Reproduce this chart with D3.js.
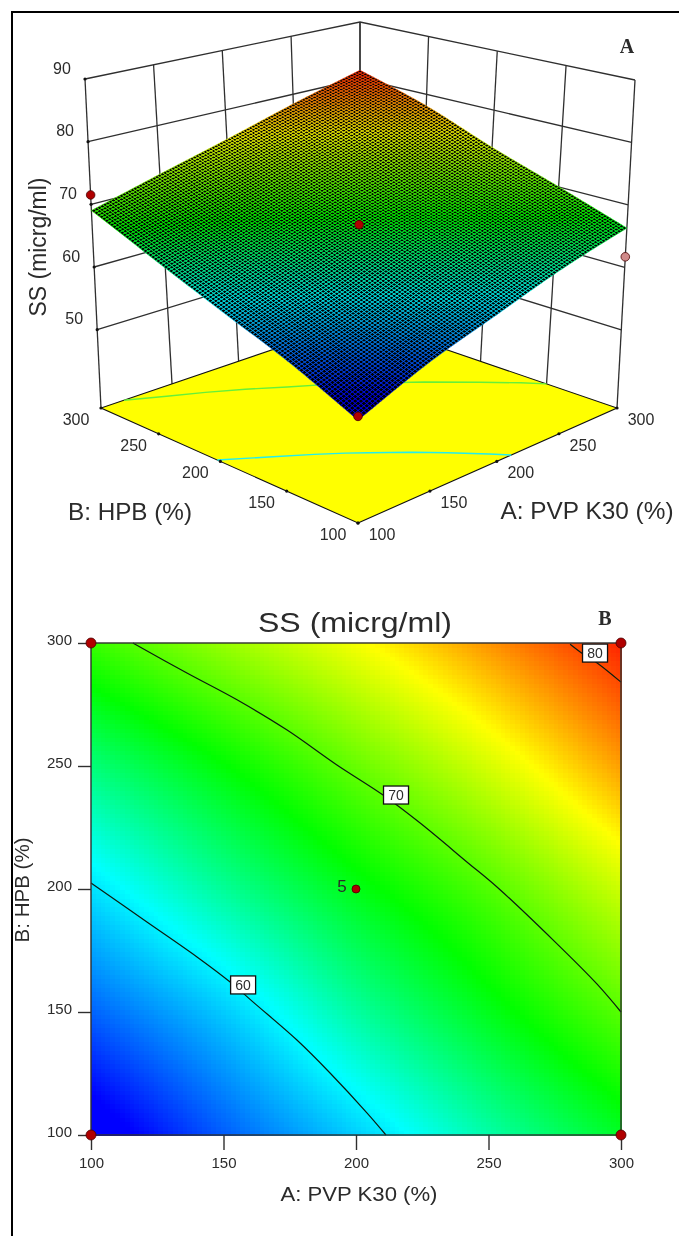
<!DOCTYPE html>
<html>
<head>
<meta charset="utf-8">
<script src="https://cdn.jsdelivr.net/npm/d3@7/dist/d3.min.js"></script>
<style>
html,body{margin:0;padding:0;background:#fff;overflow:hidden}
svg{display:block;filter:blur(0.4px)}
text{font-family:"Liberation Sans",Arial,sans-serif;fill:#2b2b2b}
</style>
</head>
<body>
<script>
// ---------- data ----------
const aLevels = [100,150,200,250,300];
const bLevels = [100,150,200,250,300];
const zTicks  = [50,60,70,80,90];
const ssB100 = [51.5,55.8,59.3,63.0,66.3];
const ssB150 = [56.0,59.2,63.2,66.6,70.0];
const ssB200 = [59.9,63.4,66.7,69.8,73.7];
const ssB250 = [64.2,67.2,70.5,74.0,78.0];
const ssB300 = [69.0,72.0,75.0,78.3,81.5];
const ssRows = [ssB100,ssB150,ssB200,ssB250,ssB300];
const contour60 = [[100,202.4],[121.1,186.6],[140,172.4],[152.5,162.2],[161.1,154.1],[177.7,138.6],[190.2,125.2],[204.2,108.9],[211.3,100]];
const contour70 = [[115.8,300],[136.2,287.8],[155.1,276.9],[174,264.6],[192.8,250.4],[210.2,238.2],[224.2,226.8],[242.3,210.6],[253.2,200.8],[275.1,178.5],[290.9,161.4],[300,150]];
const contour80 = [[280.8,299.5],[285.7,295.5],[291,291.9],[300,284.1]];
const contourLabels = [["60",157.4,161],["70",215.1,238.2],["80",290.2,295.9]];
const designA = [100,100,300,300,200];
const designB = [100,300,100,300,200];
const design3dA = [100,100,300,200];
const design3dB = [100,300,100,200];
const design3dZ = [52.0,71.5,61.7,66.8];
const design3dFill = ["#b00000","#b00000","#d08a8a","#b00000"];
const colourStops = [53,60.8,67.3,75.3,82.5];
const colourNames = ["#0000ff","#00ffff","#00ff00","#ffff00","#ff0000"];

// ---------- helpers ----------
const W=679,H=1236;
const svg=d3.select("body").append("svg").attr("width",W).attr("height",H);
const colour=d3.scaleLinear().domain(colourStops).range(colourNames).interpolate(d3.interpolateRgb).clamp(true);

function cr(p0,p1,p2,p3,t){return 0.5*((2*p1)+(-p0+p2)*t+(2*p0-5*p1+4*p2-p3)*t*t+(-p0+3*p1-3*p2+p3)*t*t*t);}
function along(vals,s){ // smooth reading between the levels
  const n=vals.length, i=Math.min(n-2,Math.floor(s)), t=s-i;
  const g=k=>k<0?2*vals[0]-vals[1]:k>=n?2*vals[n-1]-vals[n-2]:vals[k];
  return cr(g(i-1),g(i),g(i+1),g(i+2),t);
}
const aIdx=d3.scaleLinear().domain([100,300]).range([0,4]);
const bIdx=d3.scaleLinear().domain([100,300]).range([0,4]);
function ss(A,B){
  const col=ssRows.map(r=>along(r,aIdx(A)));
  return along(col,bIdx(B));
}

// ---------- frame ----------
svg.append("rect").attr("x",11).attr("y",11).attr("width",W).attr("height",2).attr("fill","#000");
svg.append("rect").attr("x",11).attr("y",11).attr("width",2).attr("height",H).attr("fill","#000");

// ---------- panel A: 3D ----------
function quad(p){ // unit square -> quad: (0,0),(1,0),(1,1),(0,1)
  const [x0,y0]=p[0],[x1,y1]=p[1],[x2,y2]=p[2],[x3,y3]=p[3];
  const dx1=x1-x2,dx2=x3-x2,sx=x0-x1+x2-x3,dy1=y1-y2,dy2=y3-y2,sy=y0-y1+y2-y3;
  const den=dx1*dy2-dx2*dy1;
  const g=(sx*dy2-dx2*sy)/den,h=(dx1*sy-sx*dy1)/den;
  const a=x1-x0+g*x1,b=x3-x0+h*x3,c=x0,d=y1-y0+g*y1,e=y3-y0+h*y3,f=y0;
  return (u,v)=>{const w=g*u+h*v+1;return [(a*u+b*v+c)/w,(d*u+e*v+f)/w];};
}
const floorQ=quad([[358,523],[617,408],[360,320],[101,408]]);
const topQ=quad([[358,137],[635,80],[360,22],[85,79]]);
const uS=d3.scaleLinear().domain([100,300]).range([0,1]);
const vS=d3.scaleLinear().domain([100,300]).range([0,1]);
const hS=d3.scaleLinear().domain([37.5,90]).range([0,1]);
function P(A,B,z){
  const u=uS(A),v=vS(B),f=floorQ(u,v),t=topQ(u,v),h=hS(z);
  return [f[0]+(t[0]-f[0])*h,f[1]+(t[1]-f[1])*h];
}
const gA=svg.append("g");
const line3=d3.line();
const wall=gA.append("g").attr("fill","none").attr("stroke","#2f2f2f").attr("stroke-width",1.3);
aLevels.forEach(a=>wall.append("path").attr("d",line3([P(a,300,37.5),P(a,300,90)])));
bLevels.forEach(b=>wall.append("path").attr("d",line3([P(300,b,37.5),P(300,b,90)])));
zTicks.forEach(z=>{
  wall.append("path").attr("d",line3([P(100,300,z),P(300,300,z),P(300,100,z)]));
});
// floor
gA.append("path").attr("d",line3([P(100,100,37.5),P(300,100,37.5),P(300,300,37.5),P(100,300,37.5)])+"Z")
  .attr("fill","#ffff00").attr("stroke","#111").attr("stroke-width",1.1);
const floorLine=d3.line().x(d=>P(d[0],d[1],37.5)[0]).y(d=>P(d[0],d[1],37.5)[1]);
gA.append("path").attr("d",floorLine(contour60)).attr("fill","none").attr("stroke","#22eeee").attr("stroke-width",1.4);
gA.append("path").attr("d",floorLine(contour70)).attr("fill","none").attr("stroke","#66f03a").attr("stroke-width",1.4);
// tick dots
const tickDots=[];
aLevels.forEach(a=>tickDots.push(P(a,100,37.5)));
bLevels.forEach(b=>tickDots.push(P(100,b,37.5)));
gA.append("g").selectAll("circle").data(tickDots).join("circle")
  .attr("cx",d=>d[0]).attr("cy",d=>d[1]).attr("r",1.6).attr("fill","#111");
gA.append("g").selectAll("circle").data(zTicks).join("circle")
  .attr("cx",z=>P(100,300,z)[0]).attr("cy",z=>P(100,300,z)[1]).attr("r",1.6).attr("fill","#111");

// surface: dark base with a coloured wire mesh
const N=100;
const cells=[];
const meshA=d3.scaleLinear().domain([0,N]).range([100,300]);
const meshB=d3.scaleLinear().domain([0,N]).range([100,300]);
for(let i=0;i<N;i++)for(let j=0;j<N;j++)cells.push([i,j]);
const corner=(i,j)=>{const a=meshA(i),b=meshB(j);return P(a,b,ss(a,b));};
const rimPts=[].concat(
  d3.range(0,N+1).map(i=>corner(i,0)),
  d3.range(0,N+1).map(j=>corner(N,j)),
  d3.range(N,-1,-1).map(i=>corner(i,N)),
  d3.range(N,-1,-1).map(j=>corner(0,j)));
gA.append("path").attr("d",line3(rimPts)+"Z").attr("fill","#000");
gA.append("g").attr("fill","none").attr("stroke-width",0.62)
  .selectAll("path").data(cells).join("path")
  .attr("d",([i,j])=>line3([corner(i,j),corner(i+1,j),corner(i+1,j+1),corner(i,j+1)])+"Z")
  .attr("stroke",([i,j])=>colour(ss(meshA(i+.5),meshB(j+.5))));

// design points
function dot(g,x,y,f,r){g.append("circle").attr("cx",x).attr("cy",y).attr("r",r).attr("fill",f).attr("stroke","#4a0000").attr("stroke-width",0.8);}
design3dA.forEach((a,i)=>{const p=P(a,design3dB[i],design3dZ[i]);dot(gA,p[0],p[1],design3dFill[i],4.3);});

// tick labels
aLevels.forEach(a=>{const p=P(a,100,37.5);
  gA.append("text").attr("x",p[0]+24).attr("y",p[1]+11).attr("dy","0.36em").attr("text-anchor","middle").attr("font-size",16).text(a);});
bLevels.forEach(b=>{const p=P(100,b,37.5);
  gA.append("text").attr("x",p[0]-25).attr("y",p[1]+11).attr("dy","0.36em").attr("text-anchor","middle").attr("font-size",16).text(b);});
zTicks.forEach(z=>{const p=P(100,300,z);
  gA.append("text").attr("x",p[0]-23).attr("y",p[1]-11).attr("dy","0.36em").attr("text-anchor","middle").attr("font-size",16).text(z);});
gA.append("text").attr("x",130).attr("y",520).attr("text-anchor","middle").attr("font-size",24).attr("textLength",124).attr("lengthAdjust","spacingAndGlyphs").text("B: HPB (%)");
gA.append("text").attr("x",587).attr("y",519).attr("text-anchor","middle").attr("font-size",24).attr("textLength",173).attr("lengthAdjust","spacingAndGlyphs").text("A: PVP K30 (%)");
gA.append("text").attr("transform","translate(46,247) rotate(-90)").attr("text-anchor","middle").attr("font-size",23).attr("textLength",139).attr("lengthAdjust","spacingAndGlyphs").text("SS (micrg/ml)");
gA.append("text").attr("x",627).attr("y",53).attr("text-anchor","middle").attr("font-size",20).attr("font-weight","bold").style("font-family","'Liberation Serif',serif").attr("fill","#333").text("A");

// ---------- panel B: contour ----------
const x=d3.scaleLinear().domain([100,300]).range([91,621]);
const y=d3.scaleLinear().domain([100,300]).range([1135,643]);
const gB=svg.append("g");
const M=110;
const heatA=d3.range(M).map(i=>100+200*i/M), heatB=d3.range(M).map(i=>100+200*i/M);
const heatCells=[];
heatA.forEach(a=>heatB.forEach(b=>heatCells.push([a,b])));
const stepA=200/M, stepB=200/M;
gB.append("g").attr("shape-rendering","crispEdges").selectAll("rect").data(heatCells).join("rect")
  .attr("x",d=>x(d[0])).attr("y",d=>y(d[1]+stepB))
  .attr("width",x(100+stepA)-x(100)+0.6).attr("height",y(100)-y(100+stepB)+0.6)
  .attr("fill",d=>colour(ss(d[0]+stepA/2,d[1]+stepB/2)));
// contour lines
const cl=d3.line().x(d=>x(d[0])).y(d=>y(d[1])).curve(d3.curveCatmullRom);
[contour60,contour70,contour80].forEach(c=>gB.append("path").attr("d",cl(c)).attr("fill","none").attr("stroke","#0c1c10").attr("stroke-width",1.2));
// contour labels
contourLabels.forEach(([t,a,b])=>{
  gB.append("rect").attr("x",x(a)-12.5).attr("y",y(b)-9).attr("width",25).attr("height",18).attr("fill","#fff").attr("stroke","#111").attr("stroke-width",1.3);
  gB.append("text").attr("x",x(a)).attr("y",y(b)).attr("dy","0.36em").attr("text-anchor","middle").attr("font-size",14).text(t);
});
// frame + axes
gB.append("rect").attr("x",91).attr("y",643).attr("width",530).attr("height",492).attr("fill","none").attr("stroke","#2f2f2f").attr("stroke-width",1.4);
const axL=gB.append("g").attr("transform","translate(91,0)").call(d3.axisLeft(y).tickValues(bLevels).tickSize(13).tickSizeOuter(0).tickPadding(6));
const axB=gB.append("g").attr("transform","translate(0,1135)").call(d3.axisBottom(x).tickValues(aLevels).tickSize(15).tickSizeOuter(0).tickPadding(7));
[axL,axB].forEach(ax=>{
  ax.select(".domain").remove();
  ax.selectAll("line").attr("stroke","#2f2f2f").attr("stroke-width",1.4);
  ax.selectAll("text").attr("font-size",15).style("font-family","'Liberation Sans',sans-serif").attr("fill","#2b2b2b");
});
axL.selectAll("text").attr("dy","0.12em");
// design points
designA.forEach((a,i)=>dot(gB,x(a),y(designB[i]),"#b00000",i===4?4:5));
gB.append("text").attr("x",342).attr("y",892).attr("text-anchor","middle").attr("font-size",17).attr("fill","#143").text("5");
// titles
gB.append("text").attr("x",355).attr("y",632).attr("text-anchor","middle").attr("font-size",28).attr("textLength",194).attr("lengthAdjust","spacingAndGlyphs").text("SS (micrg/ml)");
gB.append("text").attr("x",605).attr("y",625).attr("text-anchor","middle").attr("font-size",20).attr("font-weight","bold").style("font-family","'Liberation Serif',serif").attr("fill","#333").text("B");
gB.append("text").attr("x",359).attr("y",1201).attr("text-anchor","middle").attr("font-size",20).attr("textLength",157).attr("lengthAdjust","spacingAndGlyphs").text("A: PVP K30 (%)");
gB.append("text").attr("transform","translate(29,890) rotate(-90)").attr("text-anchor","middle").attr("font-size",20).attr("textLength",105).attr("lengthAdjust","spacingAndGlyphs").text("B: HPB (%)");
</script>
</body>
</html>
